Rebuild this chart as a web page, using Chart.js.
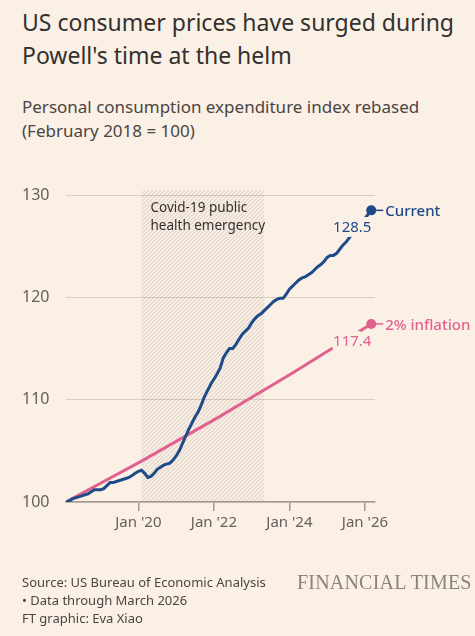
<!DOCTYPE html>
<html>
<head>
<meta charset="utf-8">
<script src="https://cdn.jsdelivr.net/npm/chart.js@4"></script>
<style>
  html, body { margin: 0; padding: 0; background: #fbf0e6; }
  body { width: 475px; height: 636px; position: relative; overflow: hidden; font-family: "Noto Sans", sans-serif; color: #33302e; }
  #chart { position: absolute; left: 0; top: 0; }
  .title { position: absolute; left: 22px; top: 6px; font-size: 23px; line-height: 33px; color: #33302e; white-space: nowrap; }
  .sub { position: absolute; left: 22px; top: 95px; font-size: 17px; line-height: 24px; color: #4a4542; white-space: nowrap; }
  .foot { position: absolute; left: 22px; top: 573px; font-size: 13px; line-height: 18px; color: #4a4542; white-space: nowrap; }
  .ft { position: absolute; left: 297px; top: 572px; font-family: "Liberation Serif", serif; font-size: 20px; line-height: 20px; color: #8a837d; white-space: nowrap; letter-spacing: 0.2px; }
</style>
</head>
<body>
<div class="title">US consumer prices have surged during<br>Powell's time at the helm</div>
<div class="sub">Personal consumption expenditure index rebased<br>(February 2018 = 100)</div>
<canvas id="chart" width="475" height="636"></canvas>
<div class="foot">Source: US Bureau of Economic Analysis<br>• Data through March 2026<br>FT graphic: Eva Xiao</div>
<div class="ft">FINANCIAL TIMES</div>

<script>
// PCE index, monthly from Feb 2018 (month 0) to Mar 2026 (month 97)
const pceIndex = [
  100.0, 100.1, 100.3, 100.4, 100.5, 100.6, 100.7, 100.8, 101.0, 101.2, 101.2,
  101.2, 101.3, 101.6, 101.9, 101.9, 102.0, 102.1, 102.2, 102.3, 102.4, 102.6, 102.8,
  103.0, 103.1, 102.8, 102.4, 102.5, 102.8, 103.2, 103.4, 103.6, 103.7, 103.8, 104.1,
  104.5, 105.0, 105.7, 106.4, 107.1, 107.7, 108.3, 108.8, 109.5, 110.3, 110.9, 111.5,
  112.0, 112.5, 113.1, 114.1, 114.6, 115.0, 115.0, 115.4, 115.9, 116.4, 116.7, 117.0,
  117.5, 117.9, 118.2, 118.4, 118.7, 119.0, 119.3, 119.6, 119.8, 119.9, 119.9, 120.3,
  120.8, 121.1, 121.4, 121.7, 121.9, 122.0, 122.2, 122.4, 122.7, 123.0, 123.2, 123.5,
  123.9, 124.1, 124.1, 124.3, 124.7, 125.1, 125.4, 125.8, 126.3, 126.8, 127.0, 127.3,
  127.7, 128.1, 128.5
];

// 2% inflation path (month index from Feb 2018)
const inflationMonths = [0, 12, 24, 36, 48, 60, 72, 84, 96, 97];
const inflationIndex = [100, 102.0, 104.0, 106.1, 108.2, 110.4, 112.6, 114.9, 117.2, 117.4];

const seriesNames = ['Current', '2% inflation'];
const xTickMonths = [23, 47, 71, 95];
const xTickLabels = ["Jan '20", "Jan '22", "Jan '24", "Jan '26"];
const yTicks = [100, 110, 120, 130];
const covidMonths = [24, 63];
const covidLabel = ['Covid-19 public', 'health emergency'];

const BLUE = '#1d4a88';
const PINK = '#e2608e';
const BG = '#fbf0e6';
const FONT = '"Noto Sans", sans-serif';

const hatch = {
  id: 'hatch',
  beforeDatasetsDraw(chart) {
    const { ctx, scales: { x, y } } = chart;
    const x0 = x.getPixelForValue(covidMonths[0]);
    const x1 = x.getPixelForValue(covidMonths[1]);
    const y0 = y.getPixelForValue(130.5);
    const y1 = y.getPixelForValue(100);
    const h = y1 - y0;
    ctx.save();
    ctx.beginPath();
    ctx.rect(x0, y0, x1 - x0, h);
    ctx.clip();
    ctx.beginPath();
    ctx.strokeStyle = 'rgba(150,138,128,0.38)';
    ctx.lineWidth = 1;
    for (let k = x0 - h; k < x1 + 4; k += 4) {
      ctx.moveTo(k, y1);
      ctx.lineTo(k + h, y0);
    }
    ctx.stroke();
    ctx.restore();

    ctx.save();
    ctx.font = '13.5px ' + FONT;
    ctx.fillStyle = '#33302e';
    ctx.textAlign = 'left';
    ctx.fillText(covidLabel[0], x0 + 9, y0 + 22);
    ctx.fillText(covidLabel[1], x0 + 9, y0 + 40);
    ctx.restore();
  }
};

const endLabels = {
  id: 'endLabels',
  afterDatasetsDraw(chart) {
    const { ctx } = chart;
    chart.data.datasets.forEach((ds, i) => {
      const meta = chart.getDatasetMeta(i);
      const pt = meta.data[meta.data.length - 1];
      const v = ds.data[ds.data.length - 1].y;
      ctx.save();
      ctx.font = '15px ' + FONT;
      ctx.textAlign = 'center';
      ctx.lineJoin = 'round';
      ctx.lineWidth = 10;
      ctx.strokeStyle = BG;
      ctx.strokeText(v.toFixed(1), pt.x - 19, pt.y + 22);
      ctx.fillStyle = ds.borderColor;
      ctx.fillText(v.toFixed(1), pt.x - 19, pt.y + 22);
      // end dot and connector to the series name
      ctx.beginPath();
      ctx.arc(pt.x, pt.y, 5, 0, Math.PI * 2);
      ctx.fill();
      ctx.beginPath();
      ctx.strokeStyle = ds.borderColor;
      ctx.lineWidth = 1.5;
      ctx.moveTo(pt.x + 4, pt.y);
      ctx.lineTo(pt.x + 12, pt.y);
      ctx.stroke();
      ctx.textAlign = 'left';
      ctx.font = '500 15px ' + FONT;
      ctx.fillText(seriesNames[i], pt.x + 14, pt.y + 6);
      ctx.restore();
    });
  }
};

const ctx = document.getElementById('chart');

new Chart(ctx, {
  type: 'line',
  data: {
    datasets: [{
      label: seriesNames[0],
      data: pceIndex.map((y, i) => ({ x: i, y: y })),
      borderColor: BLUE,
      borderWidth: 3,
      pointRadius: 0,
      tension: 0,
      order: 0
    }, {
      label: seriesNames[1],
      data: inflationMonths.map((m, i) => ({ x: m, y: inflationIndex[i] })),
      borderColor: PINK,
      borderWidth: 3,
      pointRadius: 0,
      tension: 0,
      order: 1
    }]
  },
  options: {
    responsive: false,
    animation: false,
    devicePixelRatio: 1,
    layout: { padding: { left: 22, right: 100, top: 195, bottom: 104 } },
    plugins: { legend: { display: false }, tooltip: { enabled: false } },
    scales: {
      x: {
        type: 'linear',
        min: 0,
        max: 98.2,
        afterBuildTicks: s => { s.ticks = xTickMonths.map(v => ({ value: v })); },
        afterFit: s => { s.height = 30; },
        ticks: {
          callback: (v, i) => xTickLabels[i],
          autoSkip: false,
          maxRotation: 0,
          padding: 3,
          color: '#66605c',
          font: { family: FONT, size: 15 }
        },
        grid: { drawOnChartArea: false, tickLength: 9, color: '#a39a92', lineWidth: 1.5 },
        border: { color: '#a39a92', width: 1.5 }
      },
      y: {
        min: 100,
        max: 130,
        afterBuildTicks: s => { s.ticks = yTicks.map(v => ({ value: v })); },
        afterFit: s => { s.width = 44; },
        ticks: {
          crossAlign: 'far',
          color: '#66605c',
          font: { family: FONT, size: 16 }
        },
        grid: { drawTicks: false, color: '#d9cec4', lineWidth: 1 },
        border: { display: false }
      }
    }
  },
  plugins: [hatch, endLabels]
});
</script>
</body>
</html>
